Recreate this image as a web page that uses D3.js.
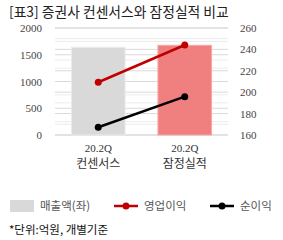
<!DOCTYPE html>
<html>
<head>
<meta charset="utf-8">
<script src="https://cdn.jsdelivr.net/npm/d3@7"></script>
<style>
  body { margin: 0; background: #fff; }
  text { font-family: "Noto Sans CJK KR", "Noto Sans", sans-serif; }
  .num { font-family: "Liberation Serif", "DejaVu Serif", serif; }
</style>
</head>
<body>
<svg id="chart" width="283" height="240"></svg>
<script>
// data
const categories = ['컨센서스', '잠정실적'];
const periods = ['20.2Q', '20.2Q'];
const sales = [1640, 1677];
const opProfit = [209.3, 244.1];
const netProfit = [167.2, 195.8];
const leftTicks = [0, 500, 1000, 1500, 2000];
const rightTicks = [160, 180, 200, 220, 240, 260];

const svg = d3.select('#chart');
const plotL = 55, plotR = 228, plotT = 28, plotB = 135;

const x = d3.scaleBand().domain(categories).range([plotL, plotR]).paddingInner(0.38).paddingOuter(0.19);
const yL = d3.scaleLinear().domain([0, 2000]).range([plotB, plotT]);
const yR = d3.scaleLinear().domain([160, 260]).range([plotB, plotT]);

// title
svg.append('text')
  .attr('x', 9).attr('y', 17)
  .attr('font-size', 13.8)
  .attr('fill', '#222')
  .text('[표3] 증권사 컨센서스와 잠정실적 비교');

// minor gridlines
const minorL = d3.range(250, 2000, 500);
const minorR = d3.range(170, 260, 20);
svg.append('g').selectAll('line').data(minorL).join('line')
  .attr('x1', plotL).attr('x2', plotR)
  .attr('y1', d => yL(d)).attr('y2', d => yL(d))
  .attr('stroke', '#ececec');
svg.append('g').selectAll('line').data(minorR).join('line')
  .attr('x1', plotL).attr('x2', plotR)
  .attr('y1', d => yR(d)).attr('y2', d => yR(d))
  .attr('stroke', '#ececec');

// major gridlines
svg.append('g').selectAll('line').data(leftTicks).join('line')
  .attr('x1', plotL).attr('x2', plotR)
  .attr('y1', d => yL(d)).attr('y2', d => yL(d))
  .attr('stroke', '#d9d9d9');
svg.append('g').selectAll('line').data(rightTicks).join('line')
  .attr('x1', plotL).attr('x2', plotR)
  .attr('y1', d => yR(d)).attr('y2', d => yR(d))
  .attr('stroke', '#d9d9d9');

// axis labels
svg.append('g').selectAll('text').data(leftTicks).join('text')
  .attr('class', 'num')
  .attr('x', 42).attr('y', d => yL(d) + 4)
  .attr('text-anchor', 'end')
  .attr('font-size', 11).attr('fill', '#444')
  .text(d => d);
svg.append('g').selectAll('text').data(rightTicks).join('text')
  .attr('class', 'num')
  .attr('x', 240).attr('y', d => yR(d) + 4)
  .attr('font-size', 11).attr('fill', '#444')
  .text(d => d);

// bars
const barFill = ['#d9d9d9', '#f08080'];
const barStroke = ['#ebebeb', '#f5a8a8'];
svg.append('g').selectAll('rect').data(sales).join('rect')
  .attr('x', (d, i) => x(categories[i]))
  .attr('y', d => yL(d))
  .attr('width', x.bandwidth())
  .attr('height', d => yL(0) - yL(d))
  .attr('fill', (d, i) => barFill[i])
  .attr('stroke', (d, i) => barStroke[i])
  .attr('stroke-width', 1);

// lines
const cx = i => x(categories[i]) + x.bandwidth() / 2;
function drawSeries(vals, color) {
  const line = d3.line().x((d, i) => cx(i)).y(d => yR(d));
  svg.append('path').datum(vals)
    .attr('d', line)
    .attr('fill', 'none')
    .attr('stroke', color)
    .attr('stroke-width', 2.5);
  svg.append('g').selectAll('circle').data(vals).join('circle')
    .attr('cx', (d, i) => cx(i))
    .attr('cy', d => yR(d))
    .attr('r', 3.5)
    .attr('fill', color);
}
drawSeries(opProfit, '#c00000');
drawSeries(netProfit, '#000');

// x labels
const xl = svg.append('g');
categories.forEach((c, i) => {
  xl.append('text').attr('class', 'num')
    .attr('x', cx(i)).attr('y', 152)
    .attr('text-anchor', 'middle')
    .attr('font-size', 11).attr('fill', '#333')
    .text(periods[i]);
  xl.append('text')
    .attr('x', cx(i)).attr('y', 168)
    .attr('text-anchor', 'middle')
    .attr('font-size', 12).attr('fill', '#333')
    .text(c);
});

// legend
const lg = svg.append('g').attr('font-size', 11.5).attr('fill', '#555');
lg.append('rect').attr('x', 10).attr('y', 200).attr('width', 24).attr('height', 12).attr('fill', '#d9d9d9');
lg.append('text').attr('x', 40).attr('y', 210).text('매출액(좌)');
[['영업이익', '#c00000', 114], ['순이익', '#000', 210]].forEach(([name, col, lx]) => {
  lg.append('line').attr('x1', lx).attr('x2', lx + 24).attr('y1', 206).attr('y2', 206)
    .attr('stroke', col).attr('stroke-width', 2.5);
  lg.append('circle').attr('cx', lx + 12).attr('cy', 206).attr('r', 3.5).attr('fill', col);
  lg.append('text').attr('x', lx + 30).attr('y', 210).text(name);
});

// footnote
svg.append('text')
  .attr('x', 9).attr('y', 234)
  .attr('font-size', 11.5).attr('fill', '#111')
  .text('*단위:억원, 개별기준');
</script>
</body>
</html>
